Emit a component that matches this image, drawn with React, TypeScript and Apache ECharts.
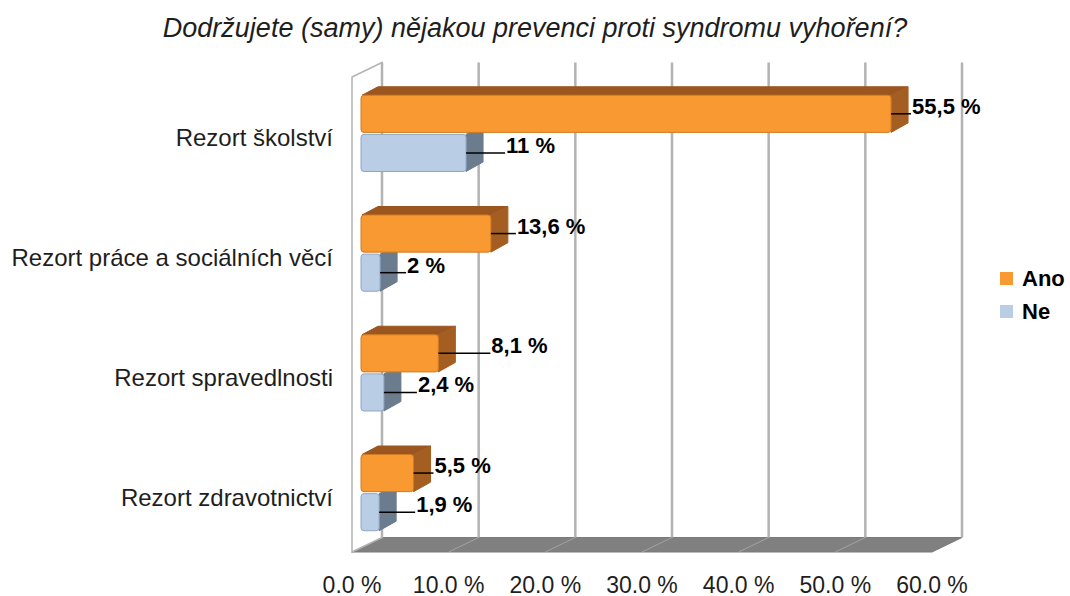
import React, { useEffect, useRef } from "react";
import * as echarts from "echarts";

const TITLE = "Dodržujete (samy) nějakou prevenci proti syndromu vyhoření?";
const CATEGORIES = [
  "Rezort školství",
  "Rezort práce a sociálních věcí",
  "Rezort spravedlnosti",
  "Rezort zdravotnictví",
];
const SERIES_NAMES = ["Ano", "Ne"];
const ANO = [55.5, 13.6, 8.1, 5.5];
const NE = [11, 2, 2.4, 1.9];
const TICKS = [0, 10, 20, 30, 40, 50, 60];

// layout-only: length of each data label's leader line (px)
const ANO_LEADER = [20, 25, 52, 20];
const NE_LEADER = [39, 26, 33, 36];

const FONT = '"Liberation Sans", Arial, sans-serif';
const WALL_D = [30, -14.5];
const BAR_D = [17, -8.5];

const COLORS = {
  ano: { front: "#F89A31", stroke: "#D07A22", top: "#9B5620", side: "#A55E22" },
  ne: { front: "#B9CDE5", stroke: "#8EA6C4", top: "#6B7C8F", side: "#6B7C8F" },
};

const fmt = (v: number) => String(v).replace(".", ",") + " %";

function barRenderer(kind: "ano" | "ne", leaders: number[]) {
  return (params: any, api: any) => {
    const v = api.value(0);
    const ci = api.value(1);
    const p = api.coord([v, ci]);
    const p0 = api.coord([0, ci]);
    const band = api.size([0, 1])[1];
    const h = band * 0.31;
    const gc = p[1] - 4.5;
    const xL = p0[0] + 9;
    const xR = xL + (p[0] - p0[0]) * 0.988;
    const top = kind === "ano" ? gc - 1 - h : gc + 1;
    const bottom = top + h;
    const c = COLORS[kind];
    const [dx, dy] = BAR_D;
    const mid = (top + bottom) / 2;
    const L = leaders[params.dataIndex];
    const children: any[] = [];
    if (kind === "ano") {
      children.push({
        type: "polygon",
        shape: { points: [[xL + 1, top], [xR, top], [xR + dx, top + dy], [xL + dx, top + dy]] },
        style: { fill: c.top, stroke: c.top, lineWidth: 1 },
      });
    }
    children.push({
      type: "polygon",
      shape: { points: [[xR, top], [xR + dx, top + dy], [xR + dx, bottom + dy - 1], [xR, bottom]] },
      style: { fill: c.side, stroke: c.side, lineWidth: 1 },
    });
    children.push({
      type: "rect",
      shape: { x: xL, y: top, width: xR - xL, height: h, r: 3 },
      style: { fill: c.front, stroke: c.stroke, lineWidth: 1 },
    });
    children.push({
      type: "line",
      shape: { x1: xR, y1: mid, x2: xR + L, y2: mid },
      style: { stroke: "#000", lineWidth: 1.5 },
    });
    children.push({
      type: "text",
      style: {
        text: fmt(v),
        x: xR + L + 1,
        y: mid - 7.5,
        fill: "#000",
        fontSize: 22,
        fontWeight: "bold",
        fontFamily: FONT,
        align: "left",
        verticalAlign: "middle",
      },
    });
    return { type: "group", children };
  };
}

function decorRenderer(params: any, api: any) {
  const cs = params.coordSys;
  const frontTop = cs.y - 1;
  const frontBottom = cs.y + cs.height - 5;
  const [dx, dy] = WALL_D;
  const xs = TICKS.map((t) => api.coord([t, 0])[0]);
  const x0 = xs[0];
  const xN = xs[xs.length - 1];
  const children: any[] = [];
  // floor
  children.push({
    type: "polygon",
    shape: { points: [[x0, frontBottom], [x0 + dx, frontBottom + dy], [xN + dx, frontBottom + dy], [xN, frontBottom]] },
    style: { fill: "#808080", stroke: "#7a7a7a", lineWidth: 1 },
  });
  xs.slice(1, -1).forEach((x) => {
    children.push({
      type: "line",
      shape: { x1: x + dx, y1: frontBottom + dy, x2: x, y2: frontBottom },
      style: { stroke: "#a3a3a3", lineWidth: 1 },
    });
  });
  // left wall
  children.push({
    type: "polygon",
    shape: { points: [[x0, frontTop], [x0 + dx, frontTop + dy], [x0 + dx, frontBottom + dy], [x0, frontBottom]] },
    style: { fill: "#ffffff", stroke: "#b3b3b3", lineWidth: 1.5 },
  });
  // back wall grid lines
  xs.forEach((x) => {
    children.push({
      type: "line",
      shape: { x1: x + dx, y1: frontTop + dy, x2: x + dx, y2: frontBottom + dy },
      style: { stroke: "#b3b3b3", lineWidth: 2.5 },
    });
  });
  return { type: "group", children };
}

export default function App() {
  const ref = useRef<HTMLDivElement>(null);
  useEffect(() => {
    if (!ref.current) return;
    const chart = echarts.init(ref.current, undefined, { renderer: "svg" });
    chart.setOption({
      animation: false,
      backgroundColor: "#ffffff",
      title: {
        text: TITLE,
        left: "center",
        top: 14,
        padding: 0,
        textStyle: {
          fontFamily: FONT,
          fontStyle: "italic",
          fontWeight: "normal",
          fontSize: 27,
          color: "#1e1e1e",
        },
      },
      legend: {
        orient: "vertical",
        left: 1000,
        top: 267,
        padding: 0,
        itemWidth: 13,
        itemHeight: 13,
        itemGap: 10,
        selectedMode: false,
        data: [
          { name: SERIES_NAMES[0], icon: "rect", itemStyle: { color: COLORS.ano.front } },
          { name: SERIES_NAMES[1], icon: "rect", itemStyle: { color: COLORS.ne.front } },
        ],
        textStyle: {
          fontFamily: FONT,
          fontWeight: "bold",
          fontSize: 22,
          lineHeight: 23,
          color: "#000",
          padding: [0, 0, 0, 4],
        },
      },
      grid: { left: 352, top: 78, width: 580, height: 480 },
      xAxis: {
        type: "value",
        min: 0,
        max: 60,
        interval: 10,
        axisLine: { show: false },
        axisTick: { show: false },
        splitLine: { show: false },
        axisLabel: {
          formatter: (v: number) => v.toFixed(1) + " %",
          fontFamily: FONT,
          fontSize: 23,
          color: "#1e1e1e",
          margin: 16,
        },
      },
      yAxis: {
        type: "category",
        inverse: true,
        data: CATEGORIES,
        axisLine: { show: false },
        axisTick: { show: false },
        splitLine: { show: false },
        axisLabel: {
          fontFamily: FONT,
          fontSize: 24,
          color: "#1e1e1e",
          margin: 19,
        },
      },
      series: [
        {
          type: "custom",
          name: "decor",
          silent: true,
          clip: false,
          z: 1,
          data: [[0, 0]],
          encode: { x: 0, y: 1 },
          renderItem: decorRenderer,
        },
        {
          type: "custom",
          name: SERIES_NAMES[1],
          clip: false,
          z: 2,
          itemStyle: { color: COLORS.ne.front },
          data: NE.map((v, i) => [v, i]),
          encode: { x: 0, y: 1 },
          renderItem: barRenderer("ne", NE_LEADER),
        },
        {
          type: "custom",
          name: SERIES_NAMES[0],
          clip: false,
          z: 3,
          itemStyle: { color: COLORS.ano.front },
          data: ANO.map((v, i) => [v, i]),
          encode: { x: 0, y: 1 },
          renderItem: barRenderer("ano", ANO_LEADER),
        },
      ],
    });
    return () => chart.dispose();
  }, []);
  return (
    <div
      ref={ref}
      style={{ position: "absolute", left: 0, top: 0, width: 1070, height: 596 }}
    />
  );
}
